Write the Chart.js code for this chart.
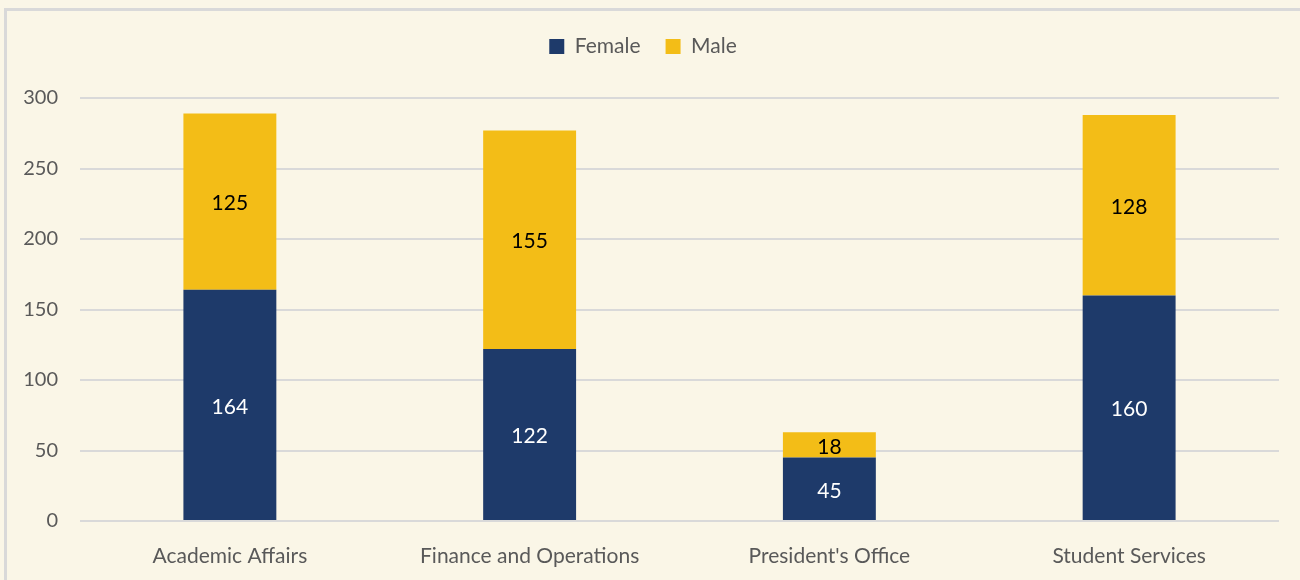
<!DOCTYPE html>
<html>
<head>
<meta charset="utf-8">
<script src="https://cdn.jsdelivr.net/npm/chart.js@4"></script>
<style>
  html, body { margin: 0; padding: 0; background: #FAF6E7; overflow: hidden; }
  #wrap {
    position: absolute; left: 4px; top: 8px;
    width: 1296px; height: 572px;
    border-left: 3px solid #D9D9D9; border-top: 3px solid #D9D9D9;
    background: #FAF6E7;
  }
</style>
</head>
<body>
<div id="wrap"><canvas id="chart" width="1293" height="569"></canvas></div>
<script>
const departments = ['Academic Affairs', 'Finance and Operations', "President's Office", 'Student Services'];
const female = [164, 122, 45, 160];
const male = [125, 155, 18, 128];
const yTicks = [0, 50, 100, 150, 200, 250, 300];

const FONT = 'Lato, "Open Sans", sans-serif';

// draws the value in the middle of every bar segment
const segmentLabels = {
  id: 'segmentLabels',
  afterDatasetsDraw(chart) {
    const ctx = chart.ctx;
    ctx.save();
    ctx.font = '21px ' + FONT;
    ctx.textAlign = 'center';
    ctx.textBaseline = 'middle';
    chart.data.datasets.forEach((ds, i) => {
      const meta = chart.getDatasetMeta(i);
      meta.data.forEach((bar, j) => {
        const y = (bar.y + bar.base) / 2;
        ctx.fillStyle = i == 0 ? '#FFFFFF' : '#000000';
        ctx.fillText(ds.data[j], bar.x, y + 2);
      });
    });
    ctx.restore();
  }
};

const legendHeight = {
  id: 'legendHeight',
  beforeInit(chart) {
    const fit = chart.legend.fit;
    chart.legend.fit = function () {
      fit.call(this);
      this.height = 87;
    };
  }
};

var ctx = document.getElementById('chart').getContext('2d');
const chart = new Chart(ctx, {
  type: 'bar',
  data: {
    labels: departments,
    datasets: [
      { label: 'Female', data: female, backgroundColor: '#1E3A6A', categoryPercentage: 1, barPercentage: 0.31 },
      { label: 'Male', data: male, backgroundColor: '#F3BD17', categoryPercentage: 1, barPercentage: 0.31 }
    ]
  },
  options: {
    responsive: false,
    animation: false,
    layout: { padding: { left: 0, right: 21, top: 0, bottom: 0 } },
    scales: {
      x: {
        stacked: true,
        grid: { display: false },
        border: { display: false },
        ticks: { color: '#595959', font: { family: FONT, size: 21 }, padding: 15 },
        afterFit(scale) { scale.height = 59; }
      },
      y: {
        stacked: true,
        min: 0,
        max: 300,
        grid: { color: '#D9D9D9', lineWidth: 2, drawTicks: false },
        border: { display: false },
        ticks: {
          stepSize: 50,
          color: '#595959',
          font: { family: FONT, size: 20 },
          padding: 22,
          callback: (v) => yTicks.includes(v) ? v : ''
        },
        afterFit(scale) { scale.width = 73; }
      }
    },
    plugins: {
      legend: {
        position: 'top',
        labels: {
          color: '#595959',
          font: { family: FONT, size: 21 },
          boxWidth: 15,
          boxHeight: 15,
          padding: 25
        }
      },
      tooltip: { enabled: false }
    }
  },
  plugins: [segmentLabels, legendHeight]
});
</script>
</body>
</html>
